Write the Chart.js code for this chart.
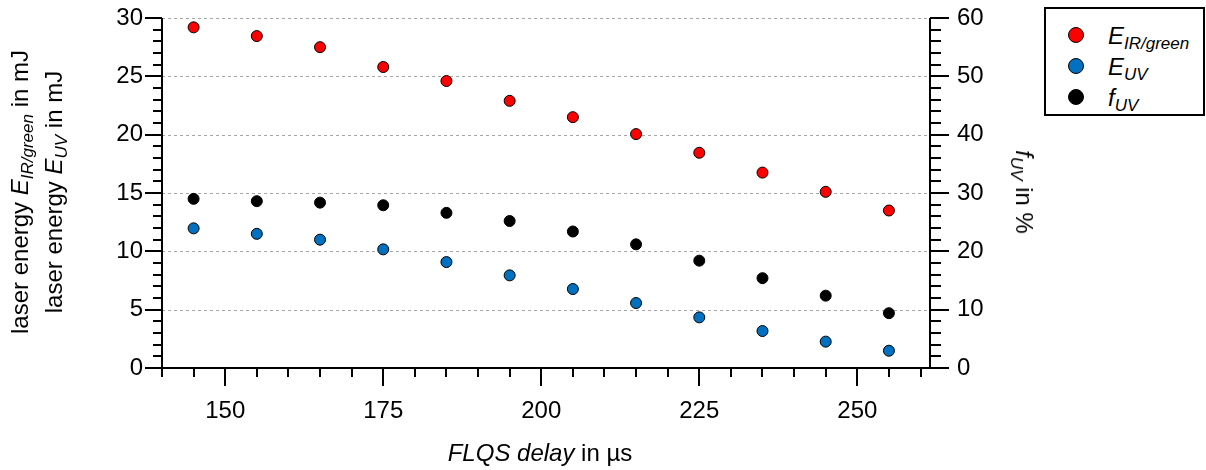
<!DOCTYPE html>
<html>
<head>
<meta charset="utf-8">
<script src="https://cdn.jsdelivr.net/npm/chart.js@4"></script>
<style>
  body { margin: 0; background: #fff; }
  #wrap { position: relative; width: 1206px; height: 470px; font-family: 'Liberation Sans', Arial, sans-serif; color: #000; }
  canvas { position: absolute; left: 0; top: 0; }
  .lbl { position: absolute; font-size: 24px; line-height: 30px; white-space: nowrap; }
  .lbl sub, .legend sub { font-size: 17px; vertical-align: -5px; line-height: 0; }
  #ytitle { left: 37px; top: 192px; line-height: 34px; text-align: center; transform: translate(-50%, -50%) rotate(-90deg); }
  #y2title { left: 1024px; top: 192px; transform: translate(-50%, -50%) rotate(90deg); }
  #xtitle { left: 540px; top: 438px; transform: translateX(-50%); }
  .legend { position: absolute; left: 1044px; top: 7px; width: 157px; height: 105px; border: 2px solid #000; background: #fff; font-size: 24px; }
  .legend div { position: absolute; left: 0; height: 30px; line-height: 30px; white-space: nowrap; }
  .legend span.dot { position: absolute; left: 22px; top: 6px; width: 16px; height: 16px; border: 1px solid #000; border-radius: 50%; box-sizing: border-box; }
  .legend span.txt { position: absolute; left: 62px; top: 0; }
</style>
</head>
<body>
<div id="wrap">
  <canvas id="myChart" width="1206" height="470"></canvas>
  <div class="lbl" id="ytitle">laser energy <i>E</i><sub><i>IR/green</i></sub> in mJ<br>laser energy <i>E</i><sub><i>UV</i></sub> in mJ</div>
  <div class="lbl" id="y2title"><i>f</i><sub><i>UV</i></sub> in %</div>
  <div class="lbl" id="xtitle"><i>FLQS delay</i> in µs</div>
  <div class="legend">
    <div style="top:12px"><span class="dot" style="background:#ff0000"></span><span class="txt"><i>E</i><sub><i>IR/green</i></sub></span></div>
    <div style="top:43px"><span class="dot" style="background:#0070c0"></span><span class="txt"><i>E</i><sub><i>UV</i></sub></span></div>
    <div style="top:74px"><span class="dot" style="background:#000000"></span><span class="txt"><i>f</i><sub><i>UV</i></sub></span></div>
  </div>
</div>
<script>
// FLQS delay in µs
const delays = [145, 155, 165, 175, 185, 195, 205, 215, 225, 235, 245, 255];
// laser energies in mJ
const eIRgreen = [29.2, 28.45, 27.5, 25.8, 24.6, 22.9, 21.5, 20.05, 18.45, 16.75, 15.1, 13.5];
const eUV = [11.97, 11.5, 11.0, 10.17, 9.08, 7.94, 6.77, 5.57, 4.34, 3.17, 2.26, 1.48];
// UV conversion in %
const fUV = [29.0, 28.6, 28.35, 27.9, 26.6, 25.2, 23.4, 21.2, 18.4, 15.4, 12.4, 9.4];

const xTicks = [150, 175, 200, 225, 250];
const yTicks = [0, 5, 10, 15, 20, 25, 30];
const y2Ticks = [0, 10, 20, 30, 40, 50, 60];

const toPoints = (xs, ys) => xs.map((x, i) => ({ x: x, y: ys[i] }));
const setTicks = list => scale => { scale.ticks = list.map(v => ({ value: v })); };

// dashed grid, axis lines and major/minor tick marks
const frame = {
    id: 'frame',
    beforeDatasetsDraw(chart) {
        const ctx = chart.ctx;
        const a = chart.chartArea;
        const x = chart.scales.x, y = chart.scales.y, y2 = chart.scales.y2;
        ctx.save();

        ctx.strokeStyle = '#a6a6a6';
        ctx.lineWidth = 1;
        ctx.setLineDash([3, 3]);
        yTicks.forEach(v => {
            if (v === 0) return;
            const py = Math.round(y.getPixelForValue(v)) + 0.5;
            ctx.beginPath();
            ctx.moveTo(a.left, py);
            ctx.lineTo(a.right, py);
            ctx.stroke();
        });
        ctx.setLineDash([]);

        ctx.strokeStyle = '#000';
        ctx.lineWidth = 2;
        const line = (x1, y1, x2, y2_) => {
            ctx.beginPath();
            ctx.moveTo(x1, y1);
            ctx.lineTo(x2, y2_);
            ctx.stroke();
        };
        line(a.left, a.top, a.left, a.bottom);
        line(a.right, a.top, a.right, a.bottom);
        line(a.left, a.bottom, a.right, a.bottom);

        for (let v = 140; v <= 260; v += 5) {
            const px = Math.round(x.getPixelForValue(v));
            line(px, a.bottom, px, a.bottom + (v % 25 === 0 ? 18 : 9));
        }
        for (let v = 0; v <= 30; v += 1) {
            const py = Math.round(y.getPixelForValue(v));
            line(a.left, py, a.left - (v % 5 === 0 ? 17 : 9), py);
        }
        for (let v = 0; v <= 60; v += 2) {
            const py = Math.round(y2.getPixelForValue(v));
            line(a.right, py, a.right + (v % 10 === 0 ? 19 : 11), py);
        }
        ctx.restore();
    }
};

Chart.defaults.font.family = "'Liberation Sans', Arial, sans-serif";
Chart.defaults.font.size = 24;
Chart.defaults.color = '#000';

const ctx = document.getElementById('myChart').getContext('2d');
const myChart = new Chart(ctx, {
    type: 'scatter',
    data: {
        datasets: [
            {
                label: 'E IR/green',
                data: toPoints(delays, eIRgreen),
                yAxisID: 'y',
                backgroundColor: '#ff0000',
                borderColor: '#000',
                borderWidth: 1,
                pointRadius: 5.5
            },
            {
                label: 'E UV',
                data: toPoints(delays, eUV),
                yAxisID: 'y',
                backgroundColor: '#0070c0',
                borderColor: '#000',
                borderWidth: 1,
                pointRadius: 5.5
            },
            {
                label: 'f UV',
                data: toPoints(delays, fUV),
                yAxisID: 'y2',
                backgroundColor: '#000',
                borderColor: '#000',
                borderWidth: 1,
                pointRadius: 5.5
            }
        ]
    },
    options: {
        responsive: false,
        devicePixelRatio: 1,
        animation: false,
        layout: { padding: { top: 18, left: 0, right: 0, bottom: 0 } },
        plugins: { legend: { display: false }, tooltip: { enabled: false } },
        scales: {
            x: {
                type: 'linear',
                min: 140,
                max: 261.5,
                afterBuildTicks: setTicks(xTicks),
                afterFit: s => { s.height = 102; },
                // tick marks are drawn by the frame plugin, tickLength only offsets the labels
                grid: { display: false, drawTicks: true, tickLength: 29 },
                border: { display: false },
                ticks: { padding: 0, maxRotation: 0 }
            },
            y: {
                type: 'linear',
                position: 'left',
                min: 0,
                max: 30,
                afterBuildTicks: setTicks(yTicks),
                afterFit: s => { s.width = 162; },
                grid: { display: false, drawTicks: true, tickLength: 19 },
                border: { display: false },
                ticks: { padding: 0 }
            },
            y2: {
                type: 'linear',
                position: 'right',
                min: 0,
                max: 60,
                afterBuildTicks: setTicks(y2Ticks),
                afterFit: s => { s.width = 276; },
                grid: { display: false, drawTicks: true, tickLength: 27 },
                border: { display: false },
                ticks: { padding: 0 }
            }
        }
    },
    plugins: [frame]
});
</script>
</body>
</html>
